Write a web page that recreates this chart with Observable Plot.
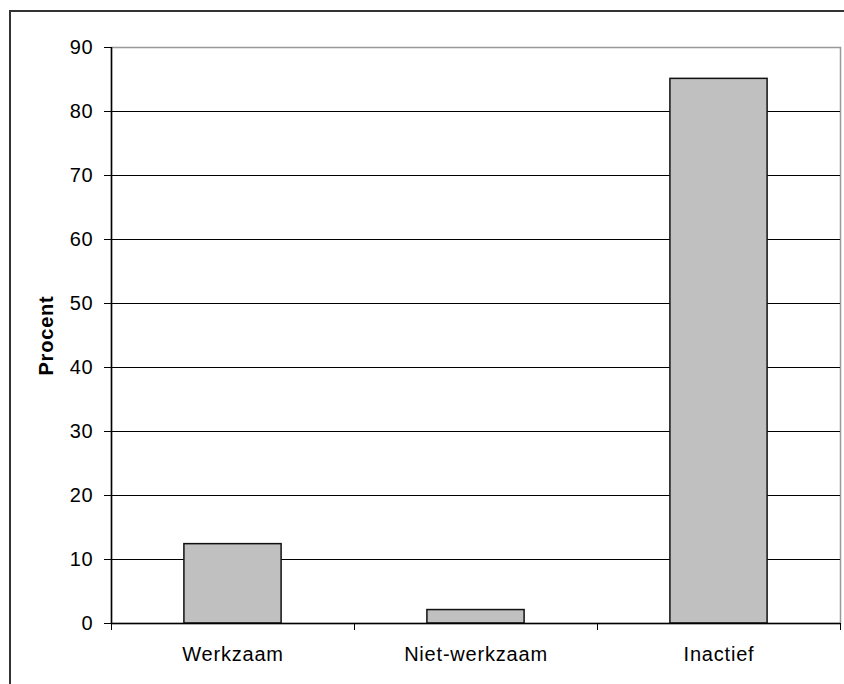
<!DOCTYPE html>
<html>
<head>
<meta charset="utf-8">
<script src="https://cdn.jsdelivr.net/npm/d3@7"></script>
<script src="https://cdn.jsdelivr.net/npm/@observablehq/plot@0.6"></script>
<style>
  html, body { margin: 0; padding: 0; background: #fff; overflow: hidden; }
  #wrap { position: relative; width: 844px; height: 684px; }
  #border { position: absolute; left: 9px; top: 10px; width: 900px; height: 700px; border: 2px solid #333; box-sizing: border-box; }
  #chart { position: absolute; left: 0; top: 0; }
</style>
</head>
<body>
<div id="wrap">
  <div id="border"></div>
  <div id="chart"></div>
</div>
<script>
const categories = ["Werkzaam", "Niet-werkzaam", "Inactief"];
const values = [12.4, 2.1, 85.1];
const yTicks = [0, 10, 20, 30, 40, 50, 60, 70, 80, 90];
const yLabel = "Procent";

const data = categories.map((c, i) => ({category: c, index: i, value: values[i]}));
const boundaries = d3.range(categories.length + 1);
const centers = categories.map((c, i) => i + 0.5);

const chart = Plot.plot({
  width: 844,
  height: 684,
  marginLeft: 111,
  marginRight: 4,
  marginTop: 47,
  marginBottom: 61,
  style: {fontFamily: "'Liberation Sans', Arial, sans-serif", fontSize: "20px", letterSpacing: "0.8px", color: "#000", background: "transparent"},
  x: {domain: [0, categories.length], axis: null},
  y: {domain: [0, 90], axis: null},
  marks: [
    Plot.frame({stroke: "#999", strokeWidth: 1.5}),
    Plot.ruleY(yTicks.filter(v => v > 0 && v < 90), {stroke: "#000", strokeWidth: 1}),
    Plot.rectY(data, {x1: d => d.index + 0.3, x2: d => d.index + 0.7, y1: 0, y2: "value", fill: "#c0c0c0", stroke: "#111", strokeWidth: 1.5}),
    Plot.axisY({ticks: yTicks, tickSize: 7, tickPadding: 11, stroke: "#000", label: yLabel, labelAnchor: "center", labelArrow: "none", labelOffset: 73, fontWeight: "normal"}),
    Plot.axisX({ticks: boundaries, tickSize: 7, tickFormat: () => "", stroke: "#000", label: null}),
    Plot.axisX({ticks: centers, tickSize: 0, tickPadding: 23, tickFormat: v => categories[Math.floor(v)], label: null}),
    Plot.ruleY([0], {stroke: "#000", strokeWidth: 1.5}),
    Plot.ruleX([0], {stroke: "#000", strokeWidth: 1.5})
  ]
});
document.getElementById("chart").appendChild(chart);
// bold y-axis label
chart.querySelectorAll("text").forEach(t => { if (t.textContent === yLabel) t.setAttribute("font-weight", "bold"); });
</script>
</body>
</html>
